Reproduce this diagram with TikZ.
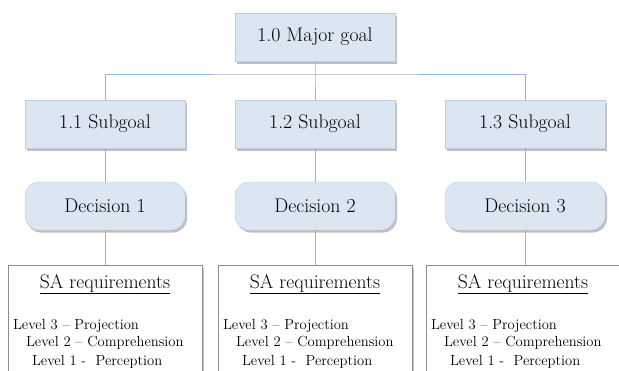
\documentclass[tikz,border=0pt]{standalone}
\usetikzlibrary{shadows}
\definecolor{boxfill}{HTML}{DCE6F2}
\definecolor{boxline}{HTML}{B9CDE5}
\definecolor{connc}{HTML}{95B3D7}
\definecolor{saline}{HTML}{8C8C8C}
\begin{document}
\begin{tikzpicture}[x=1pt,y=-1pt,
  goalbox/.style={draw=boxline, fill=boxfill, minimum width=160pt, minimum height=48pt, inner sep=0pt,
    font=\fontsize{19.8}{24}\selectfont,
    drop shadow={shadow xshift=2pt, shadow yshift=-2.5pt, fill=black, opacity=0.25}},
  decbox/.style={goalbox, rounded corners=14pt},
  sabox/.style={draw=saline, fill=white, minimum width=194pt, minimum height=140pt, anchor=north, inner sep=0pt,
    drop shadow={shadow xshift=2pt, shadow yshift=-2.5pt, fill=black, opacity=0.25}},
  satitle/.style={anchor=base, inner sep=0pt, font=\fontsize{19.6}{24}\selectfont},
  salevel/.style={anchor=base west, inner sep=0pt, font=\fontsize{14.6}{18}\selectfont},
  conn/.style={draw=connc, line width=0.8pt}
]
\useasboundingbox (0,0) rectangle (619,370);
\clip (0,0) rectangle (619,370);

\node[goalbox] (g0) at (315,37) {1.0 Major goal};
\node[goalbox] (g1) at (105,124) {1.1 Subgoal};
\node[goalbox] (g2) at (315,124) {1.2 Subgoal};
\node[goalbox] (g3) at (525,124) {1.3 Subgoal};

\node[decbox] (d1) at (105,206) {Decision 1};
\node[decbox] (d2) at (315,206) {Decision 2};
\node[decbox] (d3) at (525,206) {Decision 3};

\node[sabox] (s1) at (105,265) {};
\node[sabox] (s2) at (315,265) {};
\node[sabox] (s3) at (523,265) {};

\foreach \s in {s1,s2,s3}{
  \node[satitle] (\s t) at ([yshift=-23pt]\s.north) {\underline{SA requirements}};
  \node[salevel] (\s a) at ([xshift=5pt,yshift=-64pt]\s.north west) {Level 3 -- Projection};
  \node[salevel] (\s b) at ([xshift=18pt,yshift=-81.5pt]\s.north west) {Level 2 -- Comprehension};
  \node[salevel] (\s c) at ([xshift=24pt,yshift=-100pt]\s.north west) {Level 1 -\ \ Perception};
}

\coordinate (bar) at (315,74);
\draw[conn] (g0.south) -- (bar) -- (g2.north);
\draw[conn] (g1.north) |- (bar) -| (g3.north);
\draw[conn] (g1.south) -- (d1.north);
\draw[conn] (g2.south) -- (d2.north);
\draw[conn] (g3.south) -- (d3.north);
\draw[conn] (d1.south) -- (d1.south |- s1.north);
\draw[conn] (d2.south) -- (d2.south |- s2.north);
\draw[conn] (d3.south) -- (d3.south |- s3.north);
\end{tikzpicture}
\end{document}
